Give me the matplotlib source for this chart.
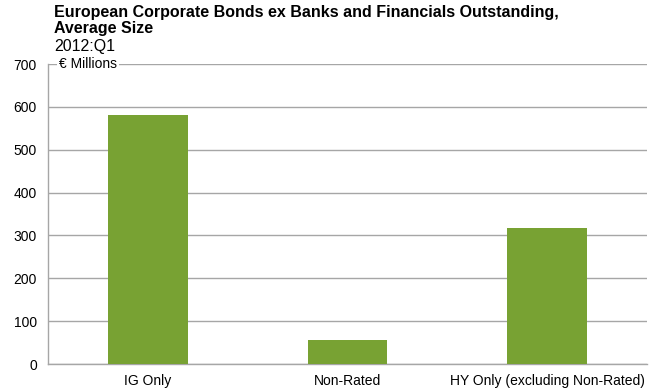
import numpy as np
import matplotlib.pyplot as plt

plt.rcParams['font.family'] = ['Liberation Sans', 'DejaVu Sans']

categories = ['IG Only', 'Non-Rated', 'HY Only (excluding Non-Rated)']
avg_size = [580, 55, 318]
y_ticks = [0, 100, 200, 300, 400, 500, 600, 700]

BAR_COLOR = '#78A233'
GRID_COLOR = '#A6A6A6'

fig = plt.figure(figsize=(6.5, 3.9), dpi=100)
ax = fig.add_axes([48 / 650, 1 - 364 / 390, 599 / 650, 300 / 390])

x = np.arange(len(categories))
ax.bar(x, avg_size, width=0.4, color=BAR_COLOR, zorder=3)

ax.set_xlim(-0.5, len(categories) - 0.5)
ax.set_ylim(0, 700)
ax.set_yticks(y_ticks)
ax.set_xticks(x)
ax.set_xticklabels(categories)
ax.tick_params(axis='both', length=0, labelsize=10, colors='black')
ax.tick_params(axis='y', pad=8)
ax.tick_params(axis='x', pad=7)

ax.yaxis.grid(True, color=GRID_COLOR, linewidth=1.0, zorder=0)
ax.set_axisbelow(True)
for side in ['top', 'right']:
    ax.spines[side].set_visible(False)
for side in ['left', 'bottom']:
    ax.spines[side].set_color(GRID_COLOR)
    ax.spines[side].set_linewidth(1.0)

# unit label sitting on the top gridline
ax.text(0.019, 700, '\u20ac Millions', transform=ax.get_yaxis_transform(),
        fontsize=10, ha='left', va='center', zorder=4,
        bbox=dict(facecolor='white', edgecolor='none', pad=1.5))

fig.text(54 / 650, 1 - 5 / 390,
         'European Corporate Bonds ex Banks and Financials Outstanding,\nAverage Size',
         fontsize=11.5, fontweight='bold', ha='left', va='top', linespacing=1.05)
fig.text(54 / 650, 1 - 39 / 390, '2012:Q1', fontsize=11.5, ha='left', va='top')

fig.savefig('out.png', dpi=100)
